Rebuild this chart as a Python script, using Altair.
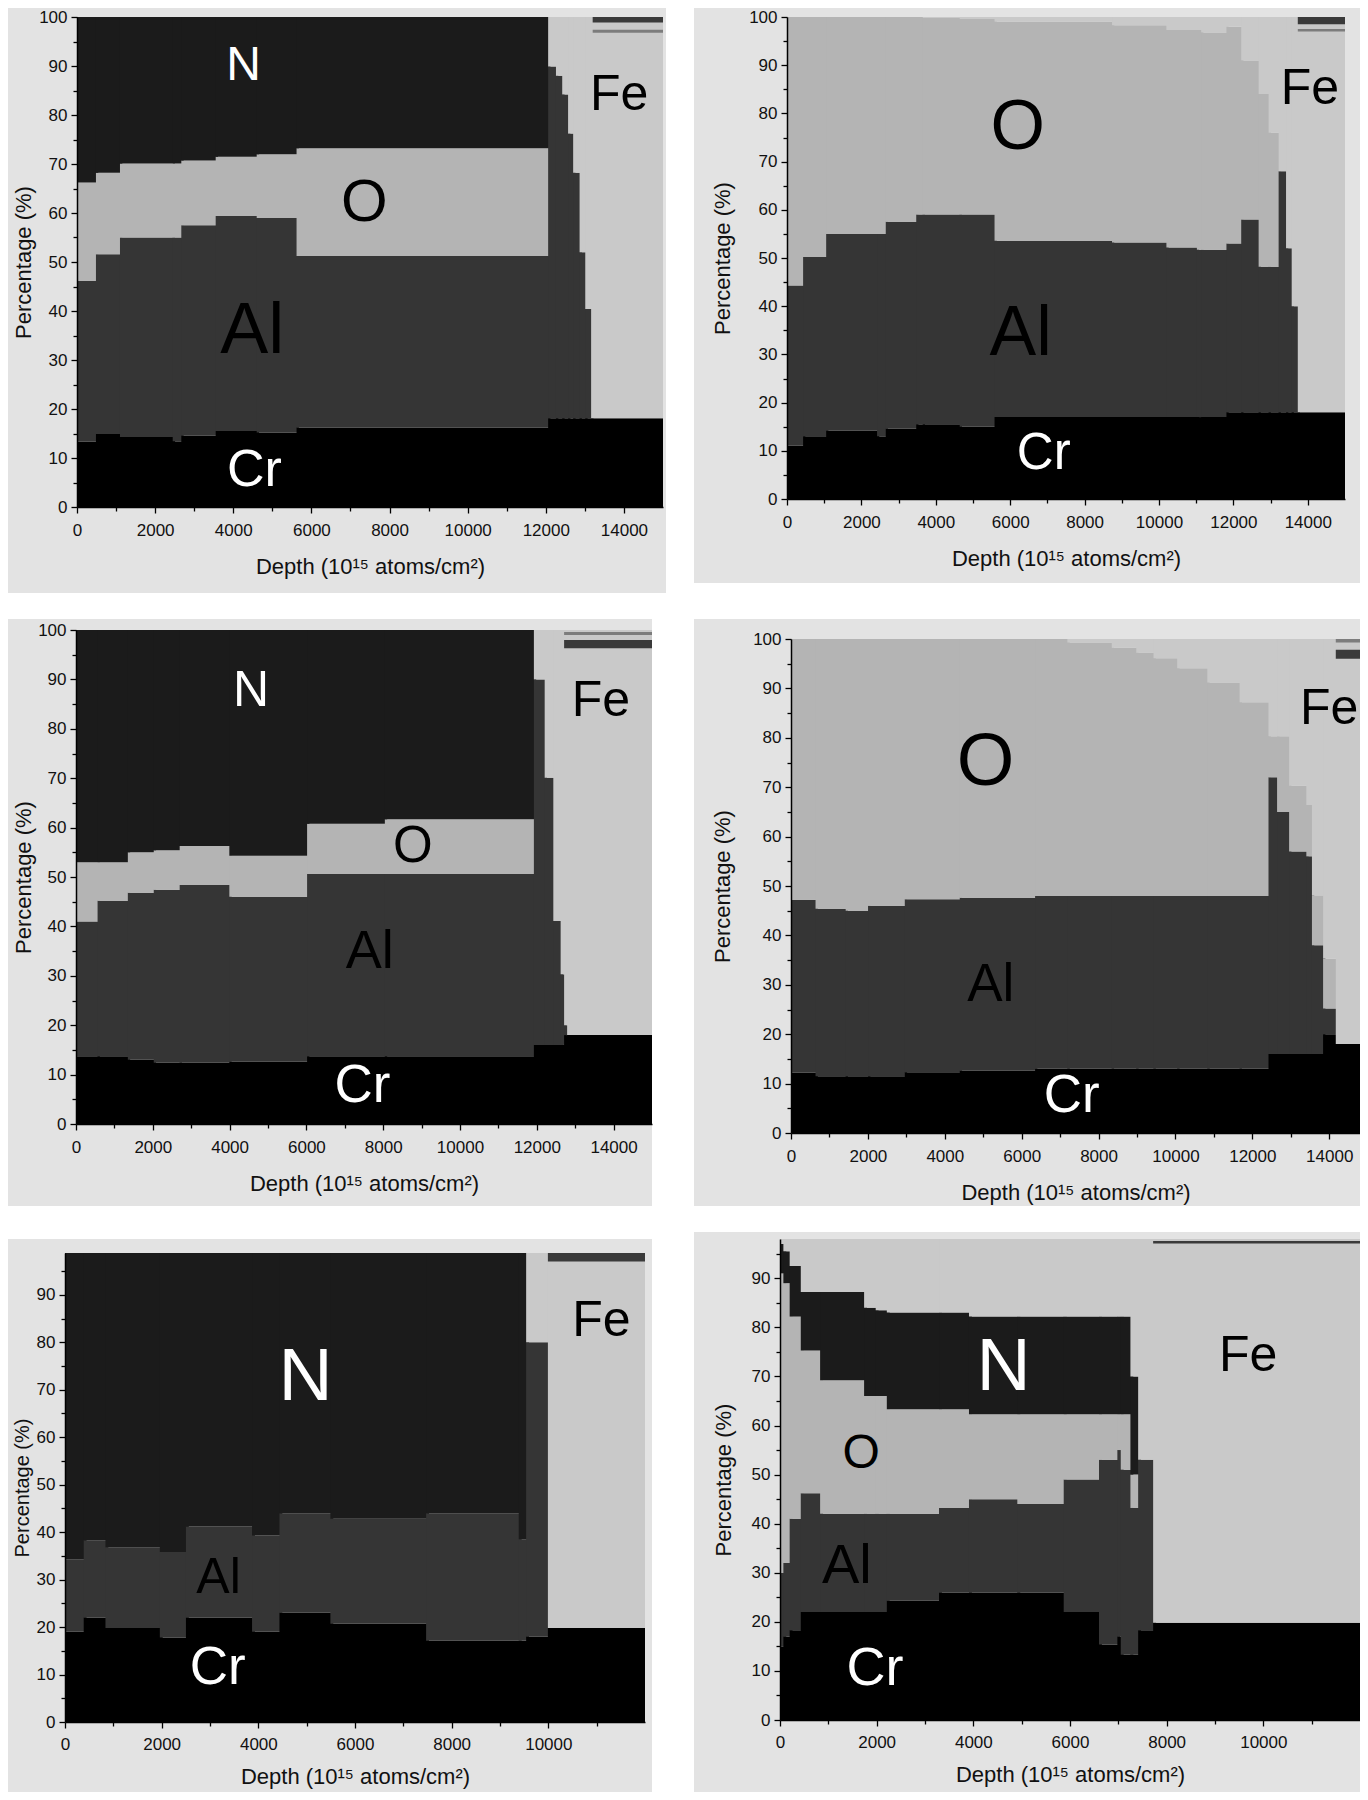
import altair as alt
import pandas as pd

# ---------------------------------------------------------------- constants
ELEMS = ["Cr", "Al", "O", "N", "Fe", "trace_dark", "trace_grey"]
ELEM_COLORS = ["#000000", "#353535", "#b4b4b4", "#1b1b1b", "#c9c9c9", "#3a3a3a", "#7c7c7c"]
PANEL_BG = "#e3e3e3"
TEXT_COLOR = "#111111"
FONT = "Liberation Sans"
X_TITLE = "Depth (10¹⁵ atoms/cm²)"
Y_TITLE = "Percentage (%)"

# ---------------------------------------------------------------- panel 1
p1_depth = [0, 485, 1100, 2450, 2670, 3550, 4600, 5620, 12060, 12260, 12420, 12570, 12700, 12865, 13010, 13160, 15000]
p1_cr_top = [13.3, 14.9, 14.3, 13.4, 14.6, 15.5, 15.2, 16.2, 18.1, 18.1, 18.1, 18.1, 18.1, 18.1, 18.1, 18.1]
p1_al_top = [46.1, 51.6, 55.0, 55.0, 57.5, 59.4, 59.0, 51.2, 89.9, 88.0, 84.2, 76.2, 68.2, 52.0, 40.4, 18.1]
p1_o_top = [66.2, 68.2, 70.1, 70.1, 70.7, 71.5, 72.0, 73.2, 89.9, 88.0, 84.2, 76.2, 68.2, 52.0, 40.4, 18.1]
p1_n_top = [100, 100, 100, 100, 100, 100, 100, 100, 89.9, 88.0, 84.2, 76.2, 68.2, 52.0, 40.4, 18.1]
p1_strip_x0 = [13200, 13200]
p1_strip_x1 = [15000, 15000]
p1_strip_y0 = [98.9, 96.8]
p1_strip_y1 = [100.0, 97.4]
p1_strip_tone = ["trace_dark", "trace_grey"]
p1_lab_t = ["N", "O", "Al", "Cr", "Fe"]
p1_lab_x = [4266, 7353, 4487, 4542, 13880]
p1_lab_y = [90.0, 62.0, 36.0, 7.6, 84.0]
p1_lab_fs = [48, 60, 72, 52, 50]
p1_lab_c = ["white", "black", "black", "white", "black"]

# ---------------------------------------------------------------- panel 2
p2_depth = [0, 433, 1053, 2421, 2655, 3474, 3650, 4643, 5579, 8737, 10199, 11018, 11134, 11813,
            12210, 12678, 12947, 13216, 13415, 13567, 13731, 15000]
p2_cr_top = [11.1, 13.0, 14.2, 13.0, 14.6, 15.5, 15.5, 15.0, 17.0, 17.0, 17.0, 17.0, 17.0, 18.0,
             18.0, 18.0, 18.0, 18.0, 18.0, 18.0, 18.0]
p2_al_top = [44.3, 50.2, 55.0, 55.0, 57.5, 59.0, 59.0, 59.0, 53.6, 53.2, 52.2, 51.7, 51.7, 53.0,
             58.0, 48.2, 48.2, 68.0, 52.0, 40.0, 18.0]
p2_o_top = [100, 100, 100, 100, 100, 100, 99.8, 99.6, 99.0, 98.3, 97.3, 97.3, 96.8, 98.0,
            91.0, 84.0, 76.0, 68.0, 52.0, 40.0, 18.0]
p2_n_top = [100, 100, 100, 100, 100, 100, 99.8, 99.6, 99.0, 98.3, 97.3, 97.3, 96.8, 98.0,
            91.0, 84.0, 76.0, 68.0, 52.0, 40.0, 18.0]
p2_strip_x0 = [13731, 13731]
p2_strip_x1 = [15000, 15000]
p2_strip_y0 = [98.5, 97.0]
p2_strip_y1 = [100.0, 97.5]
p2_strip_tone = ["trace_dark", "trace_grey"]
p2_lab_t = ["O", "Al", "Cr", "Fe"]
p2_lab_x = [6199, 6281, 6901, 14058]
p2_lab_y = [77.0, 34.2, 9.4, 85.0]
p2_lab_fs = [70, 70, 51, 50]
p2_lab_c = ["black", "black", "white", "black"]

# ---------------------------------------------------------------- panel 3
p3_depth = [0, 562, 1350, 2025, 2700, 3993, 6018, 8043, 11924, 12205, 12430, 12621, 12711, 12790, 15000]
p3_cr_top = [13.7, 13.7, 13.0, 12.4, 12.4, 12.6, 13.7, 13.7, 16.0, 16.0, 16.0, 16.0, 18.0, 18.0]
p3_al_top = [41.0, 45.2, 46.8, 47.4, 48.4, 46.0, 50.6, 50.6, 90.0, 70.1, 41.1, 30.3, 20.0, 18.0]
p3_o_top = [53.0, 53.0, 55.0, 55.4, 56.3, 54.3, 60.8, 61.7, 90.0, 70.1, 41.1, 30.3, 20.0, 18.0]
p3_n_top = [100, 100, 100, 100, 100, 100, 100, 100, 90.0, 70.1, 41.1, 30.3, 20.0, 18.0]
p3_strip_x0 = [12711, 12711]
p3_strip_x1 = [15000, 15000]
p3_strip_y0 = [99.0, 96.3]
p3_strip_y1 = [99.6, 98.0]
p3_strip_tone = ["trace_grey", "trace_dark"]
p3_lab_t = ["N", "O", "Al", "Cr", "Fe"]
p3_lab_x = [4556, 8774, 7649, 7458, 13667]
p3_lab_y = [87.6, 56.1, 34.8, 7.6, 85.6]
p3_lab_fs = [50, 51, 54, 53, 50]
p3_lab_c = ["white", "black", "black", "white", "black"]

# ---------------------------------------------------------------- panel 4
p4_depth = [0, 638, 1422, 2004, 2960, 4390, 6349, 7189, 8343, 8981, 9429, 10045, 10829, 11669,
            12420, 12643, 12956, 13404, 13550, 13840, 14170, 15000]
p4_cr_top = [12.2, 11.5, 11.5, 11.5, 12.3, 12.6, 13.0, 13.0, 13.0, 13.0, 13.0, 13.0, 13.0, 13.0,
             16.0, 16.0, 16.0, 16.0, 16.0, 20.0, 18.0]
p4_al_top = [47.2, 45.4, 45.0, 46.0, 47.3, 47.6, 48.0, 48.0, 48.0, 48.0, 48.0, 48.0, 48.0, 48.0,
             72.0, 65.0, 57.0, 56.0, 38.0, 25.2, 18.0]
p4_o_top = [100, 100, 100, 100, 100, 100, 100, 99.3, 98.2, 97.2, 96.1, 94.1, 91.2, 87.2,
            80.3, 80.3, 70.3, 66.4, 48.1, 35.3, 18.0]
p4_n_top = [100, 100, 100, 100, 100, 100, 100, 99.3, 98.2, 97.2, 96.1, 94.1, 91.2, 87.2,
            80.3, 80.3, 70.3, 66.4, 48.1, 35.3, 18.0]
p4_strip_x0 = [14170, 14170]
p4_strip_x1 = [15000, 15000]
p4_strip_y0 = [99.3, 96.0]
p4_strip_y1 = [100.0, 97.8]
p4_strip_tone = ["trace_grey", "trace_dark"]
p4_lab_t = ["O", "Al", "Cr", "Fe"]
p4_lab_x = [5062, 5196, 7301, 14000]
p4_lab_y = [74.9, 29.9, 7.4, 85.8]
p4_lab_fs = [74, 53, 53, 50]
p4_lab_c = ["black", "black", "white", "black"]

# ---------------------------------------------------------------- panel 5
p5_depth = [0, 387, 837, 1962, 2502, 3870, 4437, 5491, 7471, 9388, 9541, 9991, 12000]
p5_cr_top = [19.0, 22.0, 19.8, 17.8, 22.0, 19.0, 23.0, 20.7, 17.1, 17.1, 18.0, 19.8]
p5_al_top = [34.3, 38.3, 36.8, 35.8, 41.2, 39.3, 44.0, 42.8, 44.0, 38.5, 80.0, 19.8]
p5_o_top = [34.3, 38.3, 36.8, 35.8, 41.2, 39.3, 44.0, 42.8, 44.0, 38.5, 80.0, 19.8]
p5_n_top = [100, 100, 100, 100, 100, 100, 100, 100, 100, 100, 80.0, 19.8]
p5_strip_x0 = [9991]
p5_strip_x1 = [12000]
p5_strip_y0 = [97.0]
p5_strip_y1 = [98.8]
p5_strip_tone = ["trace_dark"]
p5_lab_t = ["N", "Al", "Cr", "Fe"]
p5_lab_x = [4977, 3177, 3159, 11098]
p5_lab_y = [72.7, 30.4, 11.3, 84.4]
p5_lab_fs = [75, 50, 53, 50]
p5_lab_c = ["white", "black", "white", "black"]

# ---------------------------------------------------------------- panel 6
p6_depth = [0, 70, 200, 430, 830, 1740, 1980, 2210, 3290, 3910, 4910, 5870, 6600, 6980, 7050,
            7250, 7410, 7720, 12000]
p6_cr_top = [15.0, 17.0, 18.3, 22.0, 22.0, 22.0, 22.0, 24.3, 26.0, 26.0, 26.0, 22.0, 15.4, 17.0,
             13.3, 13.3, 18.3, 19.8]
p6_al_top = [30.0, 32.0, 41.0, 46.2, 42.0, 42.0, 42.0, 42.0, 43.2, 45.0, 44.0, 49.0, 53.0, 55.0,
             51.0, 43.2, 53.0, 19.8]
p6_o_top = [91.0, 89.0, 82.2, 75.3, 69.2, 66.0, 66.0, 63.3, 63.3, 62.3, 62.3, 62.3, 62.3, 62.3,
            62.3, 50.0, 53.0, 19.8]
p6_n_top = [97.0, 95.5, 92.5, 87.2, 87.2, 84.0, 83.5, 83.0, 83.0, 82.2, 82.2, 82.2, 82.2, 82.2,
            82.2, 70.0, 53.0, 19.8]
p6_strip_x0 = [7720]
p6_strip_x1 = [12000]
p6_strip_y0 = [97.1]
p6_strip_y1 = [97.6]
p6_strip_tone = ["trace_dark"]
p6_lab_t = ["N", "O", "Al", "Cr", "Fe"]
p6_lab_x = [4625, 1679, 1384, 1964, 9688]
p6_lab_y = [71.9, 54.1, 31.3, 10.3, 74.1]
p6_lab_fs = [75, 48, 56, 54, 50]
p6_lab_c = ["white", "black", "black", "white", "black"]


# ---------------------------------------------------------------- helpers
def band_table(depth, cr, al, o, n, sx0, sx1, sy0, sy1, stone, ymax):
    """One rect per element per depth step; lower edge = top of the element below.
    Each step's rects run a little into the next step (which is drawn over them),
    so no hairline seams show between steps."""
    rows = []
    nseg = len(depth) - 1
    for i in range(nseg):
        overlap = 60 if i < nseg - 1 else 0
        prev = 0.0
        for el, top in (("Cr", cr[i]), ("Al", al[i]), ("O", o[i]), ("N", n[i]), ("Fe", ymax)):
            top = min(top, ymax)
            if top > prev:
                rows.append({"x0": depth[i], "x1": depth[i + 1] + overlap, "y0": prev, "y1": top, "elem": el})
                prev = top
    for a, b, c, d, t in zip(sx0, sx1, sy0, sy1, stone):
        rows.append({"x0": a, "x1": b, "y0": c, "y1": min(d, ymax), "elem": t})
    return pd.DataFrame(rows)


def label_table(t, x, y, fs, c):
    return pd.DataFrame({"t": t, "x": x, "y": y, "fs": fs, "tc": c})


def panel(df, lab, g):
    w, h, xoff, yoff = g["w"], g["h"], g["xoff"], g["yoff"]
    xmax, ymax = g["xmax"], g["ymax"]
    rx0, rx1, ry0, ry1 = g["rect"]
    xs = alt.Scale(domain=[0, xmax], range=[xoff, xoff + w], nice=False, zero=False)
    ys = alt.Scale(domain=[0, ymax], range=[yoff + h, yoff], nice=False, zero=False)
    xaxis = alt.Axis(
        title=X_TITLE, values=list(range(0, g["xtick"] + 1, 1000)), format="d",
        labelExpr="datum.value % 2000 === 0 ? datum.label : ''",
        tickSize={"condition": {"test": "datum.value % 2000 === 0", "value": 6}, "value": 4},
        labelPadding=g["xlp"], titlePadding=g["xtp"], zindex=1)
    yaxis = alt.Axis(
        title=Y_TITLE, values=list(range(0, g["ytick"] + 1, 5)), format="d",
        labelExpr="datum.value % 10 === 0 ? datum.label : ''",
        tickSize={"condition": {"test": "datum.value % 10 === 0", "value": 6}, "value": 4},
        labelPadding=4, titlePadding=g["ytp"], titleFontSize=g["ytf"], offset=-xoff, zindex=1)
    bg = alt.Chart(pd.DataFrame({"k": [0]})).mark_rect(color=PANEL_BG).encode(
        x=alt.value(rx0), x2=alt.value(rx1), y=alt.value(ry0), y2=alt.value(ry1))
    cscale = alt.Scale(domain=ELEMS, range=ELEM_COLORS)
    rects = alt.Chart(df).mark_rect(clip=True).encode(
        x=alt.X("x0:Q", scale=xs, axis=xaxis), x2="x1:Q",
        y=alt.Y("y0:Q", scale=ys, axis=yaxis), y2="y1:Q",
        color=alt.Color("elem:N", scale=cscale, legend=None))
    layers = [bg, rects]
    for col in ("white", "black"):
        layers.append(
            alt.Chart(lab).transform_filter(alt.datum.tc == col)
            .mark_text(font=FONT, align="center", baseline="middle", color=col)
            .encode(x=alt.X("x:Q", scale=xs, axis=xaxis), y=alt.Y("y:Q", scale=ys, axis=yaxis),
                    text="t:N", size=alt.Size("fs:Q", scale=None, legend=None)))
    return alt.layer(*layers).properties(width=xoff + w, height=yoff + h)


def make(depth, cr, al, o, n, sx0, sx1, sy0, sy1, stone, lt, lx, ly, lfs, lc, g):
    return panel(band_table(depth, cr, al, o, n, sx0, sx1, sy0, sy1, stone, g["ymax"]),
                 label_table(lt, lx, ly, lfs, lc), g)


# geometry (pixels): plot size, offset of the plot inside its view, and the grey panel box
G1 = dict(w=586, h=490, xoff=12, yoff=0, xmax=15000, ymax=100, xtick=14000, ytick=100,
          ytp=3, ytf=22, xlp=9, xtp=18, rect=(-57, 601, -9, 576))
G2 = dict(w=558, h=482, xoff=0, yoff=0, xmax=15000, ymax=100, xtick=14000, ytick=100,
          ytp=14, ytf=22, xlp=9, xtp=18, rect=(-93, 573, -9, 566))
G3 = dict(w=576, h=494, xoff=11, yoff=0, xmax=15000, ymax=100, xtick=14000, ytick=100,
          ytp=2, ytf=22, xlp=9, xtp=18, rect=(-57, 587, -11, 576))
G4 = dict(w=569, h=494, xoff=0, yoff=9, xmax=14800, ymax=100, xtick=14000, ytick=100,
          ytp=18, ytf=22, xlp=9, xtp=18, rect=(-97, 569, -11, 576))
G5 = dict(w=580, h=469, xoff=0, yoff=14, xmax=12000, ymax=98.8, xtick=11000, ytick=95,
          ytp=4, ytf=20, xlp=8, xtp=14, rect=(-57, 587, 0, 553))
G6 = dict(w=580, h=481, xoff=0, yoff=0, xmax=12000, ymax=98.0, xtick=11000, ytick=95,
          ytp=16, ytf=22, xlp=8, xtp=14, rect=(-86, 580, -7, 553))

c1 = make(p1_depth, p1_cr_top, p1_al_top, p1_o_top, p1_n_top,
          p1_strip_x0, p1_strip_x1, p1_strip_y0, p1_strip_y1, p1_strip_tone,
          p1_lab_t, p1_lab_x, p1_lab_y, p1_lab_fs, p1_lab_c, G1)
c2 = make(p2_depth, p2_cr_top, p2_al_top, p2_o_top, p2_n_top,
          p2_strip_x0, p2_strip_x1, p2_strip_y0, p2_strip_y1, p2_strip_tone,
          p2_lab_t, p2_lab_x, p2_lab_y, p2_lab_fs, p2_lab_c, G2)
c3 = make(p3_depth, p3_cr_top, p3_al_top, p3_o_top, p3_n_top,
          p3_strip_x0, p3_strip_x1, p3_strip_y0, p3_strip_y1, p3_strip_tone,
          p3_lab_t, p3_lab_x, p3_lab_y, p3_lab_fs, p3_lab_c, G3)
c4 = make(p4_depth, p4_cr_top, p4_al_top, p4_o_top, p4_n_top,
          p4_strip_x0, p4_strip_x1, p4_strip_y0, p4_strip_y1, p4_strip_tone,
          p4_lab_t, p4_lab_x, p4_lab_y, p4_lab_fs, p4_lab_c, G4)
c5 = make(p5_depth, p5_cr_top, p5_al_top, p5_o_top, p5_n_top,
          p5_strip_x0, p5_strip_x1, p5_strip_y0, p5_strip_y1, p5_strip_tone,
          p5_lab_t, p5_lab_x, p5_lab_y, p5_lab_fs, p5_lab_c, G5)
c6 = make(p6_depth, p6_cr_top, p6_al_top, p6_o_top, p6_n_top,
          p6_strip_x0, p6_strip_x1, p6_strip_y0, p6_strip_y1, p6_strip_tone,
          p6_lab_t, p6_lab_x, p6_lab_y, p6_lab_fs, p6_lab_c, G6)

row1 = alt.hconcat(c1, c2, spacing=28)
row2 = alt.hconcat(c3, c4, spacing=42)
row3 = alt.hconcat(c5, c6, spacing=42)

chart = (
    alt.vconcat(row1, row2, row3, spacing=26)
    .properties(padding=0, background="white")
    .configure_view(stroke=None)
    .configure_axis(
        labelFont=FONT, titleFont=FONT, labelFontSize=17, titleFontSize=22,
        titleFontWeight="normal", labelColor=TEXT_COLOR, titleColor=TEXT_COLOR,
        domainColor="#000000", domainWidth=1.5, tickColor="#000000", tickWidth=1.3,
        grid=False, labelFlush=False, labelOverlap=False)
)

chart.save("out.html", embed_options={"renderer": "svg", "actions": False})
